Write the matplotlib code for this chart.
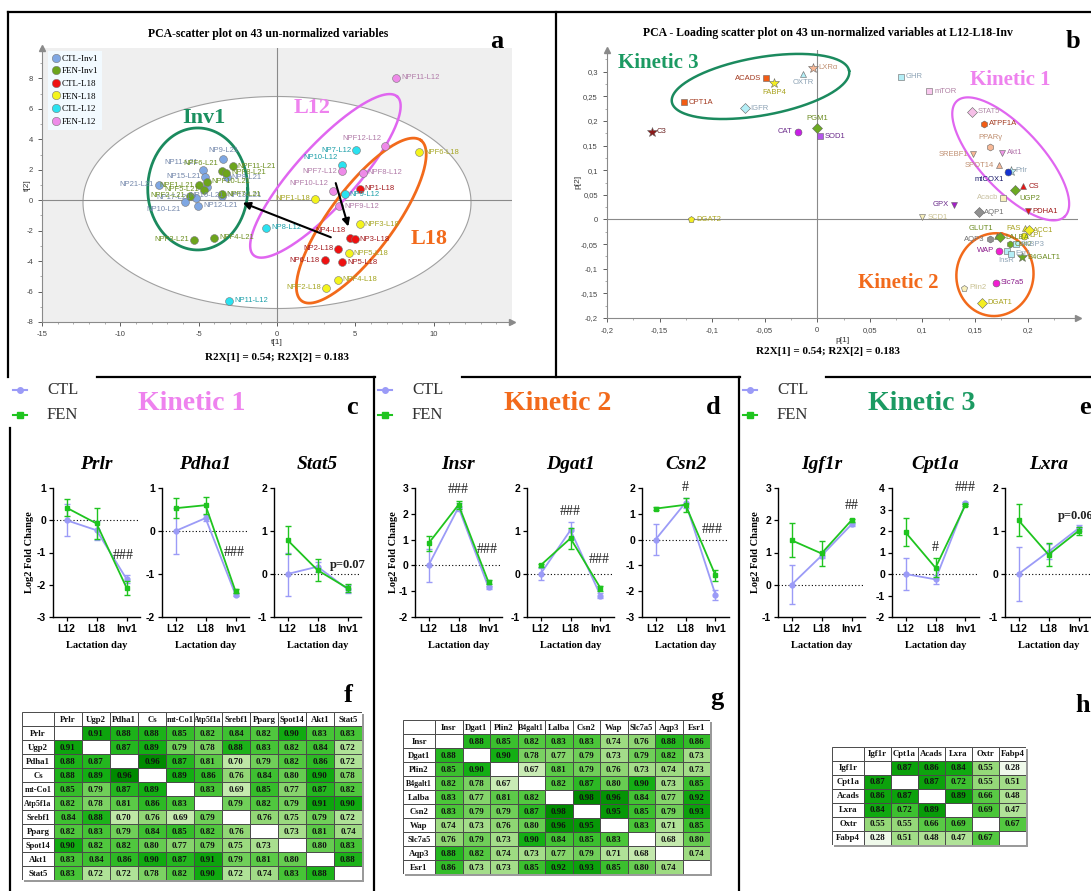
import numpy as np
import matplotlib
matplotlib.use("Agg")
import matplotlib.pyplot as plt
from matplotlib.lines import Line2D
from matplotlib.patches import Rectangle
from matplotlib.colors import LinearSegmentedColormap, Normalize
from matplotlib.ticker import FuncFormatter, MultipleLocator

plt.rcParams["axes.unicode_minus"] = False

W, H = 1091, 891
SERIF = "Liberation Serif"
SANS = "Liberation Sans"

# ---------------- panel a : PCA scores ----------------
ctl_inv1_names = ["NP9-L21", "NP11-L21", "NP8-L21", "NP15-L21", "NP21-L21",
                  "NP17-L21", "NP13-L21", "NP12-L21", "NP10-L21", "NP16-L21"]
ctl_inv1_t1 = [-3.45, -4.74, -3.2, -4.57, -7.53, -5.2, -3.5, -5.04, -5.9, -4.47]
ctl_inv1_t2 = [2.7, 1.98, 1.5, 1.54, 1.03, 0.15, 0.3, -0.37, -0.13, 0.88]

fen_inv1_names = ["NPF11-L21", "NPF6-L21", "NPF8-L21", "NPF10-L21", "NPF1-L21",
                  "NPF5-L21", "NPF2-L21", "NPF7-L21", "NPF3-L21", "NPF4-L21"]
fen_inv1_t1 = [-2.81, -3.51, -3.23, -4.47, -4.96, -4.68, -5.57, -3.51, -5.32, -4.0]
fen_inv1_t2 = [2.24, 1.91, 1.8, 1.21, 0.99, 0.7, 0.29, 0.4, -2.6, -2.48]

ctl_l18_names = ["NP1-L18", "NP4-L18", "NP3-L18", "NP2-L18", "NP6-L18", "NP5-L18"]
ctl_l18_t1 = [5.28, 4.64, 4.96, 3.89, 3.04, 4.15]
ctl_l18_t2 = [0.77, -2.48, -2.55, -3.19, -3.93, -4.09]

fen_l18_names = ["NPF6-L18", "NPF1-L18", "NPF3-L18", "NPF5-L18", "NPF4-L18", "NPF2-L18"]
fen_l18_t1 = [9.09, 2.45, 5.28, 4.57, 3.89, 3.13]
fen_l18_t2 = [3.16, 0.09, -1.58, -3.47, -5.23, -5.76]

ctl_l12_names = ["NP7-L12", "NP10-L12", "NP9-L12", "NP8-L12", "NP11-L12"]
ctl_l12_t1 = [5.06, 4.15, 4.32, -0.7, -3.04]
ctl_l12_t2 = [3.27, 2.31, 0.4, -1.8, -6.59]

fen_l12_names = ["NPF11-L12", "NPF12-L12", "NPF7-L12", "NPF8-L12", "NPF10-L12", "NPF9-L12"]
fen_l12_t1 = [7.62, 6.91, 4.15, 5.47, 3.55, 3.98]
fen_l12_t2 = [8.04, 3.58, 1.91, 1.8, 0.59, -0.4]

# ---------------- panel b : PCA loadings ----------------
load_names = ["ACADS", "FABP4", "OXTR", "LXRα", "CPT1A", "IGFR", "C3", "PGM1", "CAT",
              "SOD1", "DGAT2", "GHR", "mTOR", "STAT5", "ATPF1A", "PPARγ", "SREBF1",
              "Akt1", "SPOT14", "Prlr", "mtCOX1", "CS", "UGP2", "Acacb", "GPX", "PDHA1",
              "AQP1", "SCD1", "FAS", "ACC1", "LPL", "GLUT1", "LALBA", "AQP3", "Csn2",
              "FABP3", "WAP", "InsR", "Esr1", "B4GALT1", "Slc7a5", "Plin2", "DGAT1"]
load_p1 = [-0.049, -0.041, -0.0136, -0.0038, -0.127, -0.0687, -0.157, 0.0, -0.0187,
           0.0025, -0.12, 0.0795, 0.1067, 0.1476, 0.159, 0.1647, 0.148,
           0.176, 0.1726, 0.184, 0.181, 0.196, 0.188, 0.177, 0.130, 0.200,
           0.1536, 0.1, 0.198, 0.201, 0.197, 0.171, 0.174, 0.164, 0.183,
           0.189, 0.173, 0.180, 0.184, 0.195, 0.170, 0.140, 0.157]
load_p2 = [0.287, 0.276, 0.296, 0.308, 0.238, 0.226, 0.178, 0.186, 0.178,
           0.169, 0.0, 0.29, 0.26, 0.219, 0.194, 0.148, 0.132,
           0.135, 0.11, 0.099, 0.097, 0.067, 0.059, 0.044, 0.030, 0.017,
           0.015, 0.005, -0.018, -0.022, -0.033, -0.033, -0.036, -0.04, -0.05,
           -0.05, -0.063, -0.065, -0.07, -0.077, -0.128, -0.139, -0.169]
load_marker = ["s", "*", "^", "*", "s", "D", "*", "D", "o",
               "s", "p", "s", "s", "D", "h", "h", "v",
               "v", "^", "*", "o", "^", "D", "s", "v", "v",
               "D", "v", "^", "D", "o", "^", "D", "h", "h",
               "s", "o", "s", "s", "*", "o", "p", "D"]
load_face = ["#f25c14", "#f4ee22", "#b4eef6", "#f7b896", "#f25c14", "#b4eef6", "#8b1a1a",
             "#6caa22", "#c81ee6", "#b456ea", "#f4ee22", "#b4eef6", "#f9c8ee", "#f6c0e8",
             "#f25c14", "#f7b896", "#f7b896", "#ee96e6", "#f7b896", "#b4eef6", "#1432d2",
             "#e81414", "#6caa22", "#f8f0bc", "#a41ec8", "#e81414", "#909090", "#f8f0bc",
             "#f4ee22", "#f4ee22", "#f4ee22", "#6caa22", "#6caa22", "#909090", "#6caa22",
             "#b4eef6", "#f21ed2", "#b4eef6", "#b4eef6", "#6caa22", "#f21ed2", "#f8f0bc",
             "#f4ee22"]
load_tcol = ["#a33a20", "#a8a21e", "#8ca2b4", "#c09072", "#a33a20", "#8ca2b4", "#6a2020",
             "#6a8a1e", "#6a2a8a", "#6a2a8a", "#a8a21e", "#8ca2b4", "#b080a4", "#b08aa8",
             "#a33a20", "#c09072", "#c09072", "#b070a8", "#c09072", "#8ca2b4", "#1a1a6a",
             "#a01a1a", "#6a8a1e", "#c8c0a0", "#6a2a8a", "#a01a1a", "#707070", "#c8c090",
             "#a8a21e", "#a8a21e", "#a8a21e", "#6a8a1e", "#6a8a1e", "#707070", "#6a8a1e",
             "#8ca2b4", "#8a1a8a", "#8ca2b4", "#8ca2b4", "#6a8a1e", "#8a1a8a", "#c8c090",
             "#a8a21e"]
load_side = ["l", "b", "b", "r", "r", "r", "r", "a", "l",
             "r", "r", "r", "r", "r", "r", "a", "l",
             "r", "l", "r", "bl", "r", "br", "l", "l", "r",
             "r", "r", "l", "r", "r", "al", "r", "l", "r",
             "r", "l", "b", "r", "r", "r", "r", "r"]

# ---------------- panels c-e : qPCR kinetics ----------------
days = ["L12", "L18", "Inv1"]
ctl_mean = {"Prlr": [0, -0.31, -1.82], "Pdha1": [0, 0.3, -1.48], "Stat5": [0, 0.17, -0.35],
            "Insr": [0, 2.25, -0.85], "Dgat1": [0, 1.02, -0.5], "Csn2": [0, 1.43, -2.14],
            "Igf1r": [0, 0.9, 1.87], "Cpt1a": [0, -0.25, 3.3], "Lxra": [0, 0.52, 1.06]}
ctl_sem = {"Prlr": [0.5, 0.3, 0.12], "Pdha1": [0.54, 0.07, 0.04], "Stat5": [0.5, 0.12, 0.1],
           "Insr": [0.65, 0.15, 0.07], "Dgat1": [0.15, 0.18, 0.05], "Csn2": [0.6, 0.2, 0.2],
           "Igf1r": [0.6, 0.08, 0.05], "Cpt1a": [0.75, 0.2, 0.05], "Lxra": [0.62, 0.18, 0.07]}
fen_mean = {"Prlr": [0.39, -0.1, -2.09], "Pdha1": [0.53, 0.6, -1.4], "Stat5": [0.79, 0.09, -0.33],
            "Insr": [0.85, 2.35, -0.65], "Dgat1": [0.2, 0.83, -0.33], "Csn2": [1.2, 1.35, -1.39],
            "Igf1r": [1.38, 0.97, 2.0], "Cpt1a": [1.94, 0.29, 3.22], "Lxra": [1.25, 0.45, 1.0]}
fen_sem = {"Prlr": [0.27, 0.48, 0.22], "Pdha1": [0.23, 0.2, 0.04], "Stat5": [0.33, 0.26, 0.1],
           "Insr": [0.3, 0.15, 0.08], "Dgat1": [0.03, 0.25, 0.06], "Csn2": [0.05, 0.28, 0.2],
           "Igf1r": [0.52, 0.38, 0.05], "Cpt1a": [0.65, 0.45, 0.05], "Lxra": [0.37, 0.27, 0.1]}
ylims = {"Prlr": (-3, 1), "Pdha1": (-2, 1), "Stat5": (-1, 2), "Insr": (-2, 3), "Dgat1": (-1, 2),
         "Csn2": (-3, 2), "Igf1r": (-1, 3), "Cpt1a": (-2, 4), "Lxra": (-1, 2)}
# significance marks: (text, x, y, bold)
sig_marks = {"Prlr": [("###", 1.88, -1.1, False)],
             "Pdha1": [("###", 1.95, -0.5, False)],
             "Stat5": [("p=0.07", 2.02, 0.2, True)],
             "Insr": [("###", 1.0, 2.93, False), ("###", 1.95, 0.6, False)],
             "Dgat1": [("###", 1.0, 1.45, False), ("###", 1.95, 0.34, False)],
             "Csn2": [("#", 1.0, 2.03, False), ("###", 1.88, 0.38, False)],
             "Igf1r": [("##", 2.0, 2.47, False)],
             "Cpt1a": [("#", 1.0, 1.23, False), ("###", 2.0, 4.0, False)],
             "Lxra": [("p=0.06", 1.32, 1.36, True)]}

# ---------------- panels f-h : correlation tables ----------------
f_genes = ["Prlr", "Ugp2", "Pdha1", "Cs", "mt-Co1", "Atp5f1a", "Srebf1", "Pparg", "Spot14", "Akt1", "Stat5"]
f_vals = [[None, .91, .88, .88, .85, .82, .84, .82, .90, .83, .83],
          [.91, None, .87, .89, .79, .78, .88, .83, .82, .84, .72],
          [.88, .87, None, .96, .87, .81, .70, .79, .82, .86, .72],
          [.88, .89, .96, None, .89, .86, .76, .84, .80, .90, .78],
          [.85, .79, .87, .89, None, .83, .69, .85, .77, .87, .82],
          [.82, .78, .81, .86, .83, None, .79, .82, .79, .91, .90],
          [.84, .88, .70, .76, .69, .79, None, .76, .75, .79, .72],
          [.82, .83, .79, .84, .85, .82, .76, None, .73, .81, .74],
          [.90, .82, .82, .80, .77, .79, .75, .73, None, .80, .83],
          [.83, .84, .86, .90, .87, .91, .79, .81, .80, None, .88],
          [.83, .72, .72, .78, .82, .90, .72, .74, .83, .88, None]]
g_genes = ["Insr", "Dgat1", "Plin2", "B4galt1", "Lalba", "Csn2", "Wap", "Slc7a5", "Aqp3", "Esr1"]
g_vals = [[None, .88, .85, .82, .83, .83, .74, .76, .88, .86],
          [.88, None, .90, .78, .77, .79, .73, .79, .82, .73],
          [.85, .90, None, .67, .81, .79, .76, .73, .74, .73],
          [.82, .78, .67, None, .82, .87, .80, .90, .73, .85],
          [.83, .77, .81, .82, None, .98, .96, .84, .77, .92],
          [.83, .79, .79, .87, .98, None, .95, .85, .79, .93],
          [.74, .73, .76, .80, .96, .95, None, .83, .71, .85],
          [.76, .79, .73, .90, .84, .85, .83, None, .68, .80],
          [.88, .82, .74, .73, .77, .79, .71, .68, None, .74],
          [.86, .73, .73, .85, .92, .93, .85, .80, .74, None]]
h_genes = ["Igf1r", "Cpt1a", "Acads", "Lxra", "Oxtr", "Fabp4"]
h_vals = [[None, .87, .86, .84, .55, .28],
          [.87, None, .87, .72, .55, .51],
          [.86, .87, None, .89, .66, .48],
          [.84, .72, .89, None, .69, .47],
          [.55, .55, .66, .69, None, .67],
          [.28, .51, .48, .47, .67, None]]

# ======================================================
fig = plt.figure(figsize=(W / 100, H / 100), dpi=100)


def box(l, t, w, h):
    return fig.add_axes([l / W, 1 - (t + h) / H, w / W, h / H])


def ftext(x, y, s, **kw):
    return fig.text(x / W, 1 - y / H, s, **kw)


def fline(x0, y0, x1, y1, **kw):
    fig.add_artist(Line2D([x0 / W, x1 / W], [1 - y0 / H, 1 - y1 / H],
                          transform=fig.transFigure, **kw))


def ellipse_pts(ax, cx, cy, a, b, ang):
    t = np.linspace(0, 2 * np.pi, 240)
    c, s = np.cos(np.radians(ang)), np.sin(np.radians(ang))
    dx = a * np.cos(t) * c - b * np.sin(t) * s
    dy = a * np.cos(t) * s + b * np.sin(t) * c
    X0, Y0 = ax.transData.transform((cx, cy))
    return ax.transData.inverted().transform(np.column_stack([X0 + dx, Y0 + dy]))


OFFS = {"r": ((3.5, 0), "left", "center"), "l": ((-3.5, 0), "right", "center"),
        "a": ((0, 4), "center", "bottom"), "b": ((0, -4), "center", "top"),
        "bl": ((-3, -3), "right", "top"), "br": ((3, -3), "left", "top"),
        "al": ((-3, 3), "right", "bottom")}

# ---------------- borders ----------------
bk = dict(color="black", lw=1.6)
fline(8, 12, 1091, 12, **bk)
fline(8, 12, 8, 377, **bk)
fline(556, 12, 556, 377, **bk)
fline(97, 377, 375, 377, **bk)
fline(462, 377, 740, 377, **bk)
fline(826, 377, 1091, 377, **bk)
fline(10, 428, 10, 891, **bk)
fline(374, 377, 374, 891, **bk)
fline(739, 377, 739, 891, **bk)

# ---------------- panel a ----------------
axa = box(42, 48, 470, 274)
axa.set_facecolor("#efefef")
axa.set_xlim(-15, 15)
axa.set_ylim(-8, 10)
hot = ellipse_pts(axa, 0, -0.15, 194, 106, 0)
axa.fill(hot[:, 0], hot[:, 1], facecolor="white", edgecolor="#a0a0a0", lw=0.8, zorder=1)
axa.axhline(0, color="#8a8a8a", lw=0.8, zorder=2)
axa.axvline(0, color="#8a8a8a", lw=0.8, zorder=2)
for sp in ["top", "right"]:
    axa.spines[sp].set_visible(False)
for sp in ["left", "bottom"]:
    axa.spines[sp].set_color("#8a8a8a")
    axa.spines[sp].set_linewidth(0.8)
axa.plot(1, 0, ">", transform=axa.transAxes, clip_on=False, color="#8a8a8a", ms=5)
axa.plot(0, 1, "^", transform=axa.transAxes, clip_on=False, color="#8a8a8a", ms=5)
axa.set_xticks([-15, -10, -5, 0, 5, 10])
axa.set_yticks([-8, -6, -4, -2, 0, 2, 4, 6, 8])
axa.xaxis.set_minor_locator(MultipleLocator(1))
axa.yaxis.set_minor_locator(MultipleLocator(1))
axa.tick_params(labelsize=5.5, colors="#444444", length=3, width=0.6)
axa.tick_params(which="minor", length=1.5, width=0.5, colors="#8a8a8a")
for lab in axa.get_xticklabels() + axa.get_yticklabels():
    lab.set_family(SANS)

label_side_a = {"NP9-L21": "a", "NP11-L21": "al", "NP15-L21": "l", "NP21-L21": "l",
                "NP17-L21": "l", "NP10-L21": "bl", "NP16-L21": "b", "NPF6-L21": "al",
                "NPF1-L21": "l", "NPF5-L21": "l", "NPF2-L21": "l", "NPF3-L21": "l",
                "NP4-L18": "al", "NP2-L18": "l", "NP6-L18": "l", "NPF1-L18": "l",
                "NPF2-L18": "l", "NP7-L12": "l", "NP10-L12": "al", "NPF12-L12": "al",
                "NPF7-L12": "l", "NPF10-L12": "al"}

groups = [("CTL-Inv1", ctl_inv1_names, ctl_inv1_t1, ctl_inv1_t2, "#7fa7e3", "#7286aa"),
          ("FEN-Inv1", fen_inv1_names, fen_inv1_t1, fen_inv1_t2, "#6ca41c", "#6b8e1e"),
          ("CTL-L18", ctl_l18_names, ctl_l18_t1, ctl_l18_t2, "#ee1111", "#a3191d"),
          ("FEN-L18", fen_l18_names, fen_l18_t1, fen_l18_t2, "#f4f41c", "#a5a522"),
          ("CTL-L12", ctl_l12_names, ctl_l12_t1, ctl_l12_t2, "#2ae2f0", "#1a9ea8"),
          ("FEN-L12", fen_l12_names, fen_l12_t1, fen_l12_t2, "#ee8ae8", "#b07aa8")]
handles = []
for gname, names, t1, t2, col, tcol in groups:
    axa.scatter(t1, t2, s=32, c=col, edgecolors="#777777", linewidths=0.4, zorder=5)
    for n, x, y in zip(names, t1, t2):
        off, ha, va = OFFS[label_side_a.get(n, "r")]
        axa.annotate(n, (x, y), xytext=off, textcoords="offset points", fontsize=5.5,
                     color=tcol, ha=ha, va=va, family=SANS, zorder=6)
    handles.append(Line2D([], [], ls="none", marker="o", ms=6, mfc=col, mec="#777777", mew=0.4))

inv_e = ellipse_pts(axa, -5.06, 0.74, 50, 61, 0)
axa.plot(inv_e[:, 0], inv_e[:, 1], color="#1b8a5e", lw=2, zorder=4)
l12_e = ellipse_pts(axa, 3.09, 1.6, 107, 30, 47.8)
axa.plot(l12_e[:, 0], l12_e[:, 1], color="#e066f0", lw=1.8, zorder=4)
l18_e = ellipse_pts(axa, 5.38, -1.34, 100, 32, 53.4)
axa.plot(l18_e[:, 0], l18_e[:, 1], color="#f26a1b", lw=2, zorder=4)
axa.text(-4.68, 5.38, "Inv1", color="#1b9060", fontsize=16, weight="bold", family=SERIF,
         ha="center", va="center", zorder=7)
axa.text(2.23, 6.04, "L12", color="#ee82ee", fontsize=16, weight="bold", family=SERIF,
         ha="center", va="center", zorder=7)
axa.text(9.68, -2.53, "L18", color="#f26a1b", fontsize=16, weight="bold", family=SERIF,
         ha="center", va="center", zorder=7)
axa.annotate("", xy=(-2.35, -0.1), xytext=(3.6, -2.5),
             arrowprops=dict(arrowstyle="-|>", color="black", lw=1.5, mutation_scale=11), zorder=8)
axa.annotate("", xy=(4.6, -1.9), xytext=(3.7, 1.3),
             arrowprops=dict(arrowstyle="-|>", color="black", lw=1.5, mutation_scale=11), zorder=8)
leg = axa.legend(handles, [g[0] for g in groups], loc="upper left", bbox_to_anchor=(0.012, 0.99),
                 prop={"family": SERIF, "size": 6.5}, frameon=True, facecolor="#f2faff",
                 edgecolor="none", fancybox=False, borderpad=0.4, labelspacing=0.48,
                 handletextpad=0.15, handlelength=1.0, borderaxespad=0)
leg.get_frame().set_alpha(1)
ftext(268, 34, "PCA-scatter plot on 43 un-normalized variables", ha="center", va="center",
      family=SERIF, weight="bold", fontsize=8.5)
ftext(497, 42, "a", ha="center", va="center", family=SERIF, weight="bold", fontsize=19)
ftext(277, 343, "t[1]", ha="center", va="center", family=SANS, fontsize=6, color="#333333")
ftext(27, 185, "t[2]", ha="center", va="center", family=SANS, fontsize=6, color="#333333", rotation=90)
ftext(277, 357, "R2X[1] = 0.54; R2X[2] = 0.183", ha="center", va="center", family=SERIF,
      weight="bold", fontsize=8)

# ---------------- panel b ----------------
axb = box(607, 50, 471, 268)
axb.set_xlim(-0.2, 0.248)
axb.set_ylim(-0.2, 0.344)
axb.axhline(0, color="#8a8a8a", lw=0.8, zorder=1)
axb.axvline(0, color="#8a8a8a", lw=0.8, zorder=1)
for sp in ["top", "right"]:
    axb.spines[sp].set_visible(False)
for sp in ["left", "bottom"]:
    axb.spines[sp].set_color("#8a8a8a")
    axb.spines[sp].set_linewidth(0.8)
axb.plot(1, 0, ">", transform=axb.transAxes, clip_on=False, color="#8a8a8a", ms=5)
axb.plot(0, 1, "^", transform=axb.transAxes, clip_on=False, color="#8a8a8a", ms=5)


def comma(v, pos):
    if abs(v) < 1e-9:
        return "0"
    return f"{v:.2f}".rstrip("0").rstrip(".").replace(".", ",")


axb.set_xticks(np.arange(-0.2, 0.201, 0.05))
axb.set_yticks(np.arange(-0.2, 0.301, 0.05))
axb.xaxis.set_minor_locator(MultipleLocator(0.025))
axb.yaxis.set_minor_locator(MultipleLocator(0.025))
axb.xaxis.set_major_formatter(FuncFormatter(comma))
axb.yaxis.set_major_formatter(FuncFormatter(comma))
axb.tick_params(labelsize=5.5, colors="#444444", length=3, width=0.6)
axb.tick_params(which="minor", length=1.5, width=0.5, colors="#8a8a8a")
for lab in axb.get_xticklabels() + axb.get_yticklabels():
    lab.set_family(SANS)
for n, x, y, m, fc, tc, sd in zip(load_names, load_p1, load_p2, load_marker, load_face,
                                  load_tcol, load_side):
    axb.plot(x, y, ls="none", marker=m, ms=7.5 if m == "*" else 5, mfc=fc, mec="#666666",
             mew=0.4, zorder=5)
    off, ha, va = OFFS[sd]
    axb.annotate(n, (x, y), xytext=off, textcoords="offset points", fontsize=5.5, color=tc,
                 ha=ha, va=va, family=SANS, zorder=6)
k3 = ellipse_pts(axb, -0.054, 0.270, 90, 29, 10)
axb.plot(k3[:, 0], k3[:, 1], color="#1b8a5e", lw=1.8, zorder=4)
k1 = ellipse_pts(axb, 0.184, 0.123, 79, 31, -47)
axb.plot(k1[:, 0], k1[:, 1], color="#e066f0", lw=1.6, zorder=4)
k2 = ellipse_pts(axb, 0.169, -0.112, 41.5, 38.5, 80)
axb.plot(k2[:, 0], k2[:, 1], color="#f26a1b", lw=1.8, zorder=4)
ftext(658, 63, "Kinetic 3", ha="center", va="center", family=SERIF, weight="bold",
      fontsize=15, color="#1b9a62")
ftext(1010, 80, "Kinetic 1", ha="center", va="center", family=SERIF, weight="bold",
      fontsize=15, color="#ee82ee")
ftext(898, 283, "Kinetic 2", ha="center", va="center", family=SERIF, weight="bold",
      fontsize=15, color="#f26a1b")
ftext(828, 33, "PCA - Loading scatter plot on 43 un-normalized variables at L12-L18-Inv",
      ha="center", va="center", family=SERIF, weight="bold", fontsize=8.5)
ftext(1073, 42, "b", ha="center", va="center", family=SERIF, weight="bold", fontsize=19)
ftext(843, 340, "p[1]", ha="center", va="center", family=SANS, fontsize=6, color="#333333")
ftext(578, 182, "p[2]", ha="center", va="center", family=SANS, fontsize=6, color="#333333", rotation=90)
ftext(828, 352, "R2X[1] = 0.54; R2X[2] = 0.183", ha="center", va="center", family=SERIF,
      weight="bold", fontsize=8)

# ---------------- panels c-e ----------------
CTL_C = "#9b9bf7"
FEN_C = "#1fc41f"


def gene_plot(l, gene, ylab_x=None):
    ax = box(l, 488, 87, 129)
    x = np.arange(3)
    ax.axhline(0, color="black", ls=(0, (1, 2)), lw=0.8, zorder=1)
    ax.errorbar(x, ctl_mean[gene], yerr=ctl_sem[gene], color=CTL_C, marker="o", ms=3.5,
                lw=1.3, capsize=2, elinewidth=1, capthick=1, zorder=3)
    ax.errorbar(x, fen_mean[gene], yerr=fen_sem[gene], color=FEN_C, marker="s", ms=3.5,
                lw=1.3, capsize=2, elinewidth=1, capthick=1, zorder=4)
    lo, hi = ylims[gene]
    ax.set_xlim(-0.45, 2.45)
    ax.set_ylim(lo, hi)
    ax.set_yticks(range(lo, hi + 1))
    ax.set_xticks(x)
    ax.set_xticklabels(days)
    for sp in ["top", "right"]:
        ax.spines[sp].set_visible(False)
    for sp in ["left", "bottom"]:
        ax.spines[sp].set_linewidth(1.0)
    ax.tick_params(length=3, width=0.9, labelsize=7.5, pad=2)
    for lab in ax.get_xticklabels() + ax.get_yticklabels():
        lab.set_family(SANS)
        lab.set_weight("bold")
    for s, sx, sy, bold in sig_marks[gene]:
        ax.text(sx, sy, s, ha="left" if gene == "Lxra" else "center",
                va="center", family=SERIF, fontsize=9 if bold else 10,
                weight="bold" if bold else "normal", color="#222222", clip_on=False, zorder=6)
    ftext(l + 43.5, 465, gene, ha="center", va="center", family=SERIF, weight="bold",
          style="italic", fontsize=14)
    ftext(l + 43.5, 646, "Lactation day", ha="center", va="center", family=SERIF,
          weight="bold", fontsize=7.5)
    if ylab_x is not None:
        ftext(ylab_x, 552, "Log2 Fold Change", ha="center", va="center", family=SERIF,
              weight="bold", fontsize=7.5, rotation=90)
    return ax


def kin_legend(x0, xt):
    for yy, col, mk in [(390, CTL_C, "o"), (415, FEN_C, "s")]:
        fline(x0, yy, x0 + 14, yy, color=col, lw=1.5)
        fig.add_artist(Line2D([(x0 + 7) / W], [1 - yy / H], transform=fig.transFigure,
                              ls="none", marker=mk, ms=4, color=col))
    ftext(xt, 390, "CTL", ha="left", va="center", family=SERIF, fontsize=12, color="#333333")
    ftext(xt, 415, "FEN", ha="left", va="center", family=SERIF, fontsize=12, color="#333333")


kin_legend(13, 47)
ftext(192, 403, "Kinetic 1", ha="center", va="center", family=SERIF, weight="bold",
      fontsize=20, color="#ee82ee")
ftext(352, 407, "c", ha="center", va="center", family=SERIF, weight="bold", fontsize=19)
gene_plot(53, "Prlr", 30)
gene_plot(162, "Pdha1")
gene_plot(274, "Stat5")

kin_legend(378, 412)
ftext(558, 403, "Kinetic 2", ha="center", va="center", family=SERIF, weight="bold",
      fontsize=20, color="#f26a1b")
ftext(713, 407, "d", ha="center", va="center", family=SERIF, weight="bold", fontsize=19)
gene_plot(415, "Insr", 393)
gene_plot(527, "Dgat1")
gene_plot(642, "Csn2")

kin_legend(743, 777)
ftext(922, 403, "Kinetic 3", ha="center", va="center", family=SERIF, weight="bold",
      fontsize=20, color="#1b9a62")
ftext(1085, 408, "e", ha="center", va="center", family=SERIF, weight="bold", fontsize=19)
gene_plot(778, "Igf1r", 755)
gene_plot(892, "Cpt1a")
gene_plot(1005, "Lxra")

# ---------------- panels f-h ----------------
green_cmap = LinearSegmentedColormap.from_list(
    "greens", [(0, "#f2faee"), (0.2, "#c6eab0"), (0.4, "#96d87a"), (0.6, "#4cc63a"),
               (0.8, "#12ae12"), (1.0, "#008a00")])
HEAD_SIZE = {4: 6.3, 5: 6.3, 6: 6.0, 7: 5.7}


def corr_table(l, t, genes, vals, cw, vmin, vmax):
    n = len(genes)
    hw, rh = 32, 14
    tw, th = hw + n * cw, (n + 1) * rh
    ax = box(l, t, tw, th)
    ax.set_xlim(0, tw)
    ax.set_ylim(th, 0)
    ax.axis("off")
    norm = Normalize(vmin, vmax, clip=True)
    ax.add_patch(Rectangle((2, 2), tw, th, fc="#9a9a9a", ec="none", clip_on=False, zorder=0))
    for i in range(n + 1):
        for j in range(n + 1):
            x0 = 0 if j == 0 else hw + (j - 1) * cw
            w = hw if j == 0 else cw
            y0 = i * rh
            txt = ""
            fc = "white"
            size = 6.5
            if i == 0 and j > 0:
                txt = genes[j - 1]
                size = HEAD_SIZE.get(len(txt), 6.3)
            elif j == 0 and i > 0:
                txt = genes[i - 1]
                size = HEAD_SIZE.get(len(txt), 6.3)
            elif i > 0 and j > 0 and vals[i - 1][j - 1] is not None:
                v = vals[i - 1][j - 1]
                fc = green_cmap(norm(v))
                txt = f"{v:.2f}"
            ax.add_patch(Rectangle((x0, y0), w, rh, fc=fc, ec="#4a4a4a", lw=0.7, zorder=1))
            if txt:
                ax.text(x0 + w / 2, y0 + rh / 2 + 0.5, txt, ha="center", va="center",
                        family=SERIF, weight="bold", fontsize=size, color="#111111", zorder=2)


corr_table(22, 712, f_genes, f_vals, 28, 0.62, 0.96)
ftext(348, 695, "f", ha="center", va="center", family=SERIF, weight="bold", fontsize=19)
corr_table(403, 720, g_genes, g_vals, 27.5, 0.60, 0.98)
ftext(717, 698, "g", ha="center", va="center", family=SERIF, weight="bold", fontsize=19)
corr_table(832, 747, h_genes, h_vals, 27, 0.27, 0.96)
ftext(1083, 705, "h", ha="center", va="center", family=SERIF, weight="bold", fontsize=19)

fig.savefig("out.png", dpi=100, facecolor="white")
